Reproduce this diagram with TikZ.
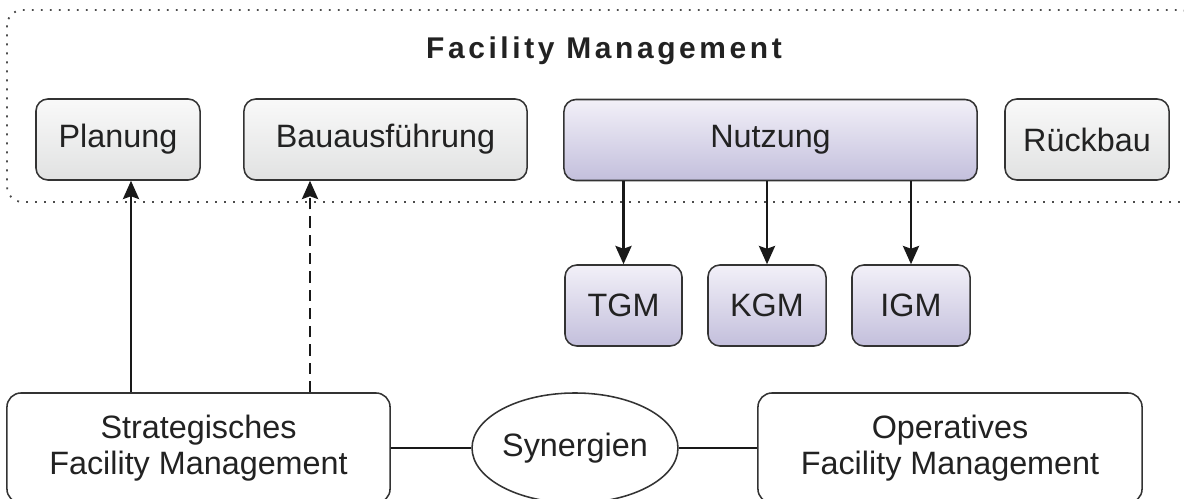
\documentclass[tikz,border=0pt]{standalone}
\usepackage{fontspec}
\setmainfont{Liberation Sans}
\newfontfamily\titlefont[LetterSpace=12]{Liberation Sans}
\usetikzlibrary{arrows.meta, shapes.geometric}

\definecolor{boxline}{HTML}{333333}
\definecolor{txt}{HTML}{222222}
\definecolor{grayTop}{HTML}{F9F9F9}
\definecolor{grayBot}{HTML}{E1E2E2}
\definecolor{lilaTop}{HTML}{F2F0F8}
\definecolor{lilaBot}{HTML}{C3BFDC}

\begin{document}
\begin{tikzpicture}[x=0.025cm, y=-0.025cm, >={Stealth[length=13pt, width=11.5pt, inset=2pt]},
    phase/.style={draw=boxline, line width=1.1pt, rounded corners=8.5pt, top color=grayTop, bottom color=grayBot,
        minimum height=2.025cm, inner sep=0pt, text=txt, font=\fontsize{23}{25.5}\selectfont},
    usebox/.style={phase, top color=lilaTop, bottom color=lilaBot},
    fmbox/.style={draw=boxline, line width=1.1pt, rounded corners=10pt, fill=white, align=center,
        minimum width=9.6cm, minimum height=2.75cm, inner sep=0pt, text=txt, font=\fontsize{23}{26}\selectfont},
    link/.style={draw=black!90, line width=1.6pt}]

    \useasboundingbox (0,0) rectangle (1184,499);

    % Frame
    \draw[gray!60!black, line width=1.3pt, dash pattern=on 1.3pt off 5.1pt, rounded corners=11pt] (7,10) rectangle (1196,202);
    \node (title) at (604,51) {\titlefont\bfseries\fontsize{21.3}{25}\selectfont\color{txt}Facility Management};

    % Phases
    \node[phase, minimum width=4.1cm] (plan) at (118,139.5) {Planung};
    \node[phase, minimum width=7.075cm] (bau) at (385.5,139.5) {Bauausführung};
    \node[usebox, minimum width=10.325cm] (nutz) at (770.5,140) {Nutzung};
    \node[phase, minimum width=4.1cm] (rueck) at (1087,139.5) {Rückbau};

    \node[usebox, minimum width=2.925cm] (tgm) at (623.5,305.5) {TGM};
    \node[usebox, minimum width=2.95cm] (kgm) at (767,305.5) {KGM};
    \node[usebox, minimum width=2.95cm] (igm) at (911,305.5) {IGM};

    % Strategic / operative
    \node[fmbox, minimum width=9.575cm] (strat) at (198.5,448) {Strategisches\\Facility Management};
    \node[fmbox] (oper) at (950,448) {Operatives\\Facility Management};
    \node[ellipse, draw=boxline, line width=1.1pt, fill=white, minimum width=5cm, minimum height=2.75cm,
        inner sep=0pt, text=txt, font=\fontsize{23}{26}\selectfont] (syn) at (575,448) {Synergien};

    % Arrows
    \coordinate (xplan) at (131,0);
    \coordinate (xbau) at (310,0);
    \draw[link, ->] (strat.north -| xplan) -- (plan.south -| xplan);
    \draw[link, ->, dash pattern=on 8pt off 5pt] (strat.north -| xbau) -- (bau.south -| xbau);
    \foreach \n in {tgm, kgm, igm}
        \draw[link, ->] (nutz.south -| \n.north) -- (\n.north);

    \draw[link] (strat.east) -- (syn.west);
    \draw[link] (syn.east) -- (oper.west);
\end{tikzpicture}
\end{document}
